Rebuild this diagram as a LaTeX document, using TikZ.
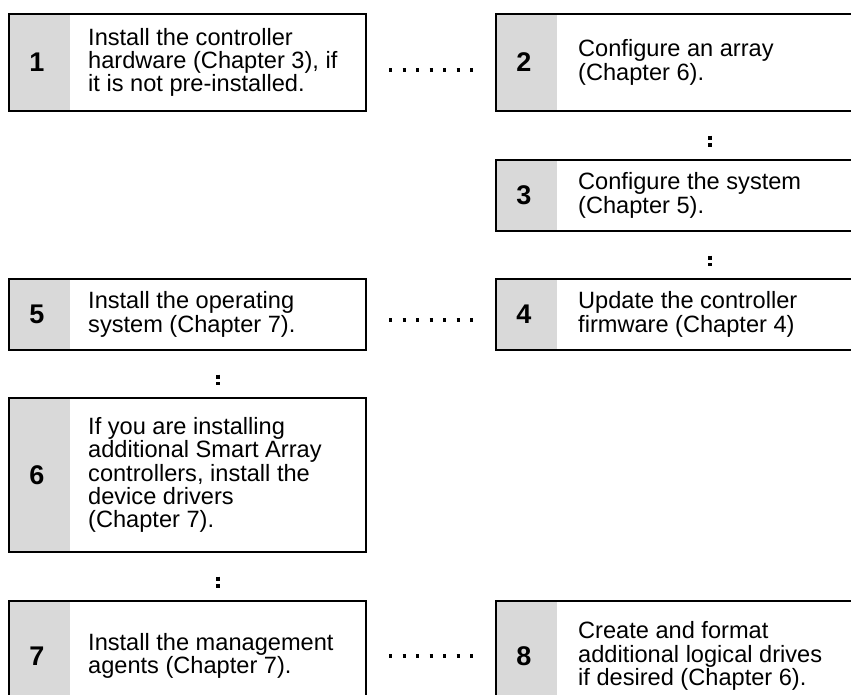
\documentclass[tikz,border=0pt]{standalone}
\usepackage{fontspec}
\setmainfont{Liberation Sans}
\definecolor{stepgray}{HTML}{D9D9D9}
\tikzset{
  stepbox/.style={draw, line width=2.6pt, anchor=north west, inner sep=0pt, outer sep=0pt,
    path picture={\fill[stepgray] (path picture bounding box.north west)
      rectangle ([xshift=61pt]path picture bounding box.south west);}},
  leftbox/.style={stepbox, minimum width=357pt},
  rightbox/.style={stepbox, minimum width=369pt},
  stepnum/.style={inner sep=0pt, font=\fontsize{27}{30}\selectfont\bfseries},
  steptext/.style={anchor=west, align=left, inner sep=0pt,
    font=\fontsize{23.6}{23.3}\selectfont},
  dotrow/.style={line width=3.2pt, dash pattern=on 3.2pt off 10.3pt},
  colon/.style={line width=4pt, dash pattern=on 4pt off 3.5pt},
}
\begin{document}
\begin{tikzpicture}[x=1pt,y=-1pt]
  \useasboundingbox (0,0) rectangle (851,694);
  \clip (0,0) rectangle (851,694);

  % boxes
  \node[leftbox,  minimum height=97pt]  (b1) at (9,14)   {};
  \node[rightbox, minimum height=97pt]  (b2) at (496,14) {};
  \node[rightbox, minimum height=71pt]  (b3) at (496,160) {};
  \node[rightbox, minimum height=71pt]  (b4) at (496,279) {};
  \node[leftbox,  minimum height=71pt]  (b5) at (9,279)  {};
  \node[leftbox,  minimum height=154pt] (b6) at (9,398)  {};
  \node[leftbox,  minimum height=110pt] (b7) at (9,601)  {};
  \node[rightbox, minimum height=110pt] (b8) at (496,601) {};

  % numbers
  \node[stepnum] (n1) at ([xshift=28pt]b1.west) {1};
  \node[stepnum] (n2) at ([xshift=28pt]b2.west) {2};
  \node[stepnum] (n3) at ([xshift=28pt]b3.west) {3};
  \node[stepnum] (n4) at ([xshift=28pt]b4.west) {4};
  \node[stepnum] (n5) at ([xshift=28pt]b5.west) {5};
  \node[stepnum] (n6) at ([xshift=28pt]b6.west) {6};
  \node[stepnum] (n7) at ([xshift=28pt]b7.west) {7};
  \node[stepnum] (n8) at ([xshift=28pt]b8.west) {8};

  % texts
  \node[steptext] (t1) at ([xshift=79pt]b1.west)
    {Install the controller\\hardware (Chapter 3), if\\it is not pre-installed.};
  \node[steptext] (t2) at ([xshift=82pt]b2.west) {Configure an array\\(Chapter 6).};
  \node[steptext] (t3) at ([xshift=82pt]b3.west) {Configure the system\\(Chapter 5).};
  \node[steptext] (t4) at ([xshift=82pt]b4.west) {Update the controller\\firmware (Chapter 4)};
  \node[steptext] (t5) at ([xshift=79pt]b5.west) {Install the operating\\system (Chapter 7).};
  \node[steptext] (t6) at ([xshift=79pt]b6.west)
    {If you are installing\\additional Smart Array\\controllers, install the\\device drivers\\(Chapter 7).};
  \node[steptext] (t7) at ([xshift=79pt]b7.west) {Install the management\\agents (Chapter 7).};
  \node[steptext] (t8) at ([xshift=82pt]b8.west)
    {Create and format\\additional logical drives\\if desired (Chapter 6).};

  % dotted links
  \draw[dotrow] ([shift={(23,7.5)}]b1.east) -- ([shift={(-23,7.5)}]b2.west);
  \draw[dotrow] ([shift={(23,5.5)}]b5.east) -- ([shift={(-23,5.5)}]b4.west);
  \draw[dotrow] ([shift={(23,0)}]b7.east) -- ([shift={(-23,0)}]b8.west);
  \draw[colon] ([shift={(214,24.5)}]b2.south west) -- ([shift={(214,-13)}]b3.north west);
  \draw[colon] ([shift={(214,24.5)}]b3.south west) -- ([shift={(214,-13)}]b4.north west);
  \draw[colon] ([shift={(209,24.5)}]b5.south west) -- ([shift={(209,-13)}]b6.north west);
  \draw[colon] ([shift={(209,24.5)}]b6.south west) -- ([shift={(209,-13)}]b7.north west);
\end{tikzpicture}
\end{document}
